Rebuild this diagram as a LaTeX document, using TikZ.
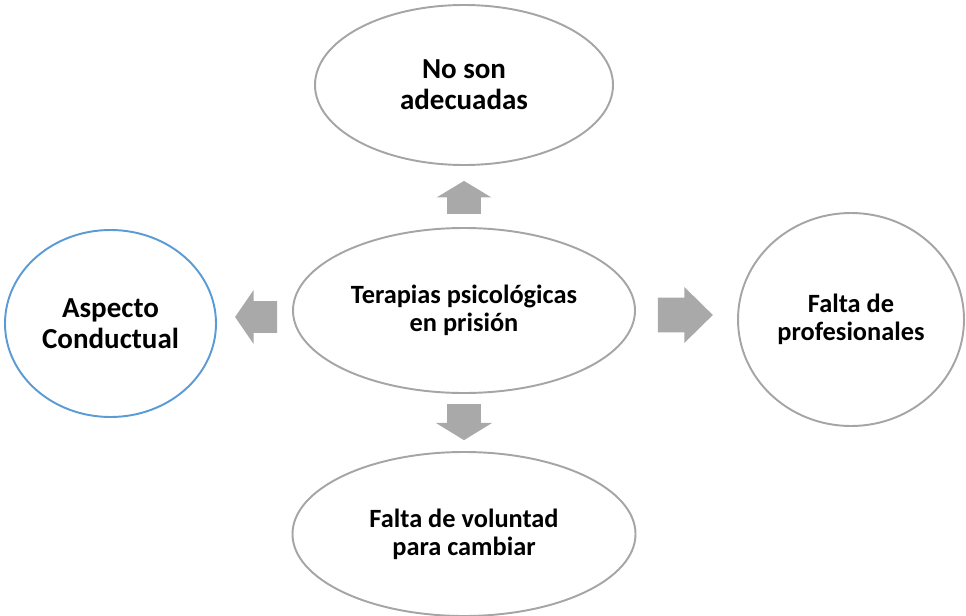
\documentclass[tikz,border=0pt]{standalone}
\usepackage{fontspec}
\setmainfont{Carlito}
\usetikzlibrary{calc,positioning,shapes,shapes.arrows}
\definecolor{rimgray}{HTML}{A5A5A5}
\definecolor{rimblue}{HTML}{5B9BD5}
\definecolor{arrowgray}{HTML}{A9A9A9}
\tikzset{
  idea/.style={ellipse, draw=rimgray, line width=1.1pt, align=center, inner sep=0pt,
    font=\bfseries\fontsize{15}{16}\selectfont},
  bigidea/.style={idea, font=\bfseries\fontsize{16.5}{17.5}\selectfont},
  blockarrow/.style={single arrow, fill=arrowgray, inner xsep=0pt, single arrow head indent=0pt}
}
\begin{document}
\begin{tikzpicture}
	\useasboundingbox (0,0) rectangle (19.32,-12.30);
	% Place nodes
	\node [idea, minimum width=6.84cm, minimum height=3.30cm] (terapias) at (9.28,-6.21) {Terapias psicológicas\\en prisión};
	\node [bigidea, minimum width=5.96cm, minimum height=3.20cm] (adecuadas) at (9.28,-1.70) {No son\\adecuadas};
	\node [idea, minimum width=6.86cm, minimum height=3.28cm] (voluntad) at (9.28,-10.68) {Falta de voluntad\\para cambiar};
	\node [bigidea, draw=rimblue, minimum width=4.22cm, minimum height=3.74cm] (conductual) at (2.21,-6.47) {Aspecto\\Conductual};
	\node [idea, minimum width=4.52cm, minimum height=4.26cm] (profesionales) at (17.02,-6.39) {Falta de\\profesionales};

	% Draw arrows
	\node [blockarrow, rotate=90, xshift=-0.12cm, inner ysep=0.33cm, minimum height=0.66cm, single arrow head extend=0.21cm, single arrow tip angle=118] (toadecuadas) at ($(terapias.north)!0.5!(adecuadas.south)$) {};
	\node [blockarrow, rotate=-90, xshift=-0.11cm, inner ysep=0.33cm, minimum height=0.72cm, single arrow head extend=0.23cm, single arrow tip angle=117] (tovoluntad) at ($(terapias.south)!0.5!(voluntad.north)$) {};
	\node [blockarrow, rotate=180, xshift=-0.14cm, inner ysep=0.31cm, minimum height=0.84cm, single arrow head extend=0.22cm, single arrow tip angle=111] (toconductual) at ($(terapias.west)!0.5!(conductual.east)$) {};
	\node [blockarrow, xshift=-0.20cm, inner ysep=0.34cm, minimum height=1.10cm, single arrow head extend=0.21cm, single arrow tip angle=89] (toprofesionales) at ($(terapias.east)!0.5!(profesionales.west)$) {};
\end{tikzpicture}
\end{document}
